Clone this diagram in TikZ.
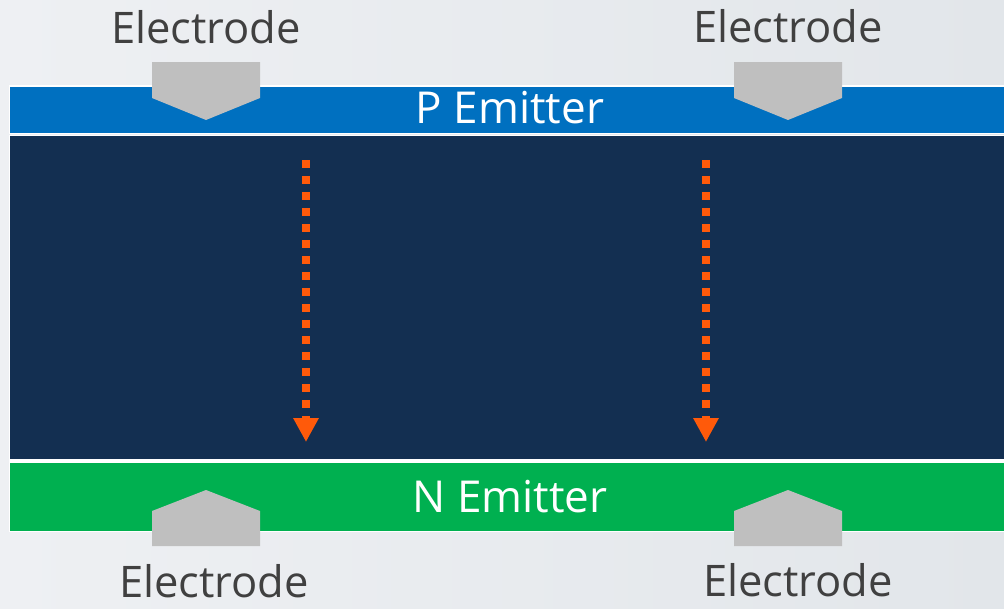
\documentclass[tikz,border=0pt]{standalone}
\usepackage{fontspec}
\setmainfont{Open Sans}
\usepackage{xcolor}
\definecolor{PNbg}{HTML}{EEF0F3}
\definecolor{PNbgdark}{HTML}{E2E6EA}
\definecolor{PNblue}{HTML}{0070C0}
\definecolor{PNnavy}{HTML}{132F51}
\definecolor{PNgreen}{HTML}{00B050}
\definecolor{PNgray}{HTML}{BFBFBF}
\definecolor{PNorange}{HTML}{FF5A0A}
\definecolor{PNtext}{HTML}{404040}
\usetikzlibrary{arrows.meta, positioning}

\begin{document}
\begin{tikzpicture}[
  x=1pt, y=-1pt,
  layer/.style={draw=white, line width=1.5pt},
  electrode/.style={fill=PNgray},
  eltext/.style={anchor=base, text=PNtext, font=\fontsize{43.5}{50}\selectfont, inner sep=0pt},
  bandtext/.style={anchor=base, text=white, font=\fontsize{44}{50}\selectfont, inner sep=0pt},
  flow/.style={draw=PNorange, line width=8pt, dash pattern=on 8pt off 8pt,
    -{Triangle[width=24pt, length=24pt]}}
]
\useasboundingbox (0,0) rectangle (1004,608);
\fill[left color=PNbg, right color=PNbgdark] (0,0) rectangle (1004,608);

% layers
\fill[PNblue, layer] (9.5,86) rectangle (1010,133.5);
\fill[PNnavy, layer] (9.5,135.5) rectangle (1010,460);
\fill[PNgreen, layer] (9.5,462) rectangle (1010,531.5);

% electrodes
\fill[electrode] (152,62) -- (260,62) -- (260,98) -- (206,120) -- (152,98) -- cycle;
\fill[electrode] (734,62) -- (842,62) -- (842,98) -- (788,120) -- (734,98) -- cycle;
\fill[electrode] (152,546) -- (260,546) -- (260,511) -- (206,490) -- (152,511) -- cycle;
\fill[electrode] (734,546) -- (842,546) -- (842,511) -- (788,490) -- (734,511) -- cycle;

\node[eltext] (elTL) at (206,43) {Electrode};
\node[eltext] (elTR) at (788,42) {Electrode};
\node[eltext] (elBL) at (214,597) {Electrode};
\node[eltext] (elBR) at (798,596) {Electrode};

\node[bandtext] (pEmit) at (510,123) {P Emitter};
\node[bandtext] (nEmit) at (510,512) {N Emitter};

% current flow
\coordinate (flowLa) at (306,160);
\coordinate (flowLb) at (306,442);
\coordinate (flowRa) at (706,160);
\coordinate (flowRb) at (706,442);
\draw[flow] (flowLa) -- (flowLb);
\draw[flow] (flowRa) -- (flowRb);
\end{tikzpicture}
\end{document}
